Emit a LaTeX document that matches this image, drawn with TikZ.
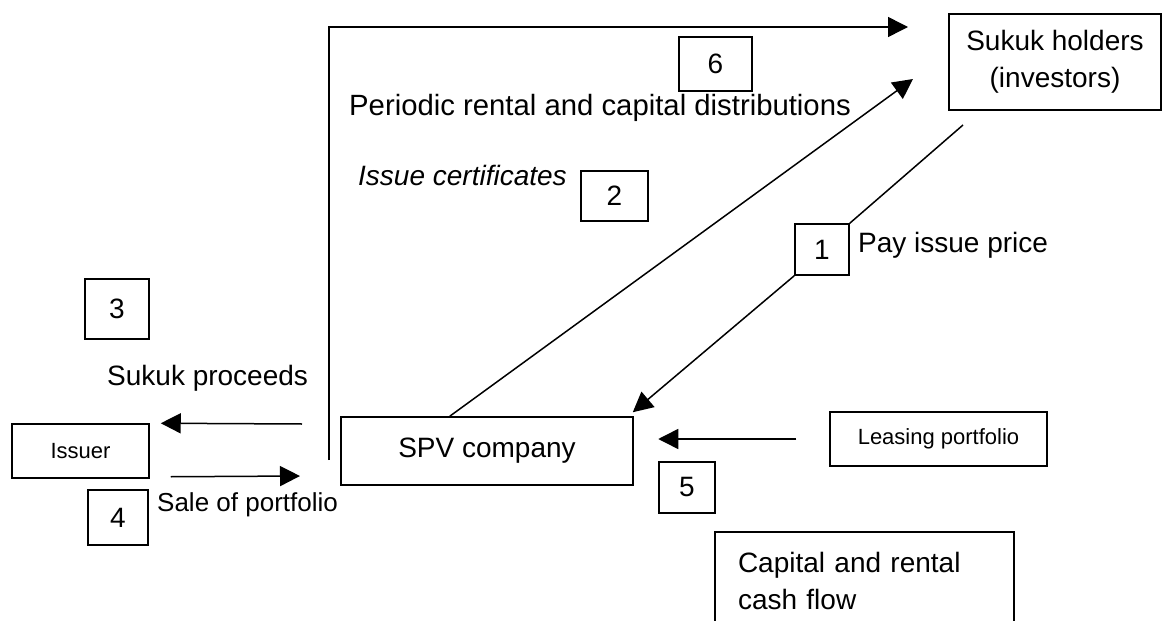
\documentclass[tikz,border=0pt]{standalone}
\usepackage{fontspec}
\setmainfont{Liberation Sans}
\usetikzlibrary{arrows.meta, positioning}
\newcommand{\bigtext}{\fontsize{28}{37}\selectfont}
\newcommand{\smalltext}{\fontsize{22}{26}\selectfont}
\tikzset{%
	partybox/.style={
		draw,
		line width=1.5pt,
		inner sep=0pt,
		font=\bigtext
	},
	numbox/.style={
		partybox
	},
	label text/.style={
		inner sep=0pt,
		anchor=west,
		font=\bigtext
	},
	flow/.style={
		line width=1.5pt,
		-{Triangle[length=20pt, width=20pt]}
	},
	link/.style={
		line width=1.5pt
	},
}

\begin{document}
\begin{tikzpicture}[x=1pt, y=-1pt]
	% Define the frame of the picture
	\useasboundingbox (0,0) rectangle (1163,621);
	
	% Parties
	\node[partybox, minimum width=212pt, minimum height=96pt, align=center] (holders) at (1055,62) {Sukuk holders\\(investors)};
	\node[partybox, minimum width=292pt, minimum height=68pt] (spv) at (487,451) {SPV company};
	\node[partybox, font=\smalltext, minimum width=137pt, minimum height=54pt] (issuer) at (80.5,451) {Issuer};
	\node[partybox, font=\smalltext, minimum width=217pt, minimum height=54pt] (leasing) at (938.5,439) {Leasing portfolio};
	\node[partybox, text width=253pt, inner xsep=23pt, minimum height=97pt, align=left] (cashflow) at (864.5,580.5) {Capital and rental\\cash flow};
	
	% Loop through the numbered steps
	\foreach \num/\px/\py/\w/\h in {1/822/249.5/54/51, 2/614.5/196/67/50, 3/117/309/64/60, 4/118/517.5/60/55, 5/687/487.5/56/51, 6/715.5/64/73/54} {
		\node[numbox, minimum width=\w pt, minimum height=\h pt] (num\num) at (\px,\py) {\num};
	}
	
	% Texts of the steps
	\node[label text, font=\fontsize{29.3}{35}\selectfont] (periodic) at (349,108) {Periodic rental and capital distributions};
	\node[label text] (issue) at (358,175) {\itshape Issue certificates};
	\node[label text] (pay) at (858,245) {Pay issue price};
	\node[label text] (proceeds) at (107,378) {Sukuk proceeds};
	\node[label text, font=\fontsize{26}{31}\selectfont] (sale) at (157,505) {Sale of portfolio};
	
	% Connectors
	\coordinate (trunk) at (329,460);
	\coordinate (topEnd) at (908,27);
	\draw[flow] (trunk) |- (topEnd);
	\coordinate (distEnd) at (913,79);
	\draw[flow] (spv.137) -- (distEnd);
	\coordinate (payStart) at (963,125);
	\draw[link] (payStart) -- (num1.north east);
	\draw[flow] (num1.south west) -- ([shift={(-1pt,4pt)}]spv.north east);
	\coordinate (procStart) at (302,424);
	\draw[flow] (procStart) -- ([xshift=11pt]issuer.north east);
	\coordinate (saleEnd) at (300,476);
	\draw[flow] ([xshift=21pt, yshift=2pt]issuer.south east) -- (saleEnd);
	\draw[flow, shorten <=33pt] (leasing.west) -- (leasing.west -| num5.west);
\end{tikzpicture}
\end{document}
